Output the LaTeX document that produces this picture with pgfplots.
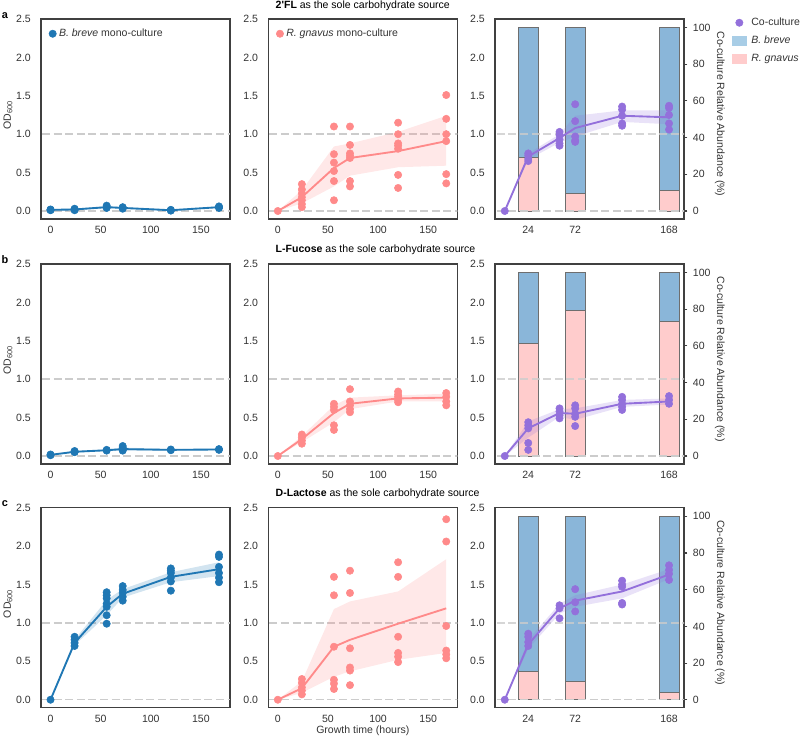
\documentclass[border=0pt]{standalone}
\usepackage{fontspec}
\setmainfont{Liberation Sans}
\usepackage{pgfplots}
\pgfplotsset{compat=1.18}
\definecolor{bblue}{RGB}{31,119,180}
\definecolor{rpink}{RGB}{255,138,138}
\definecolor{cpurple}{RGB}{147,112,219}
\definecolor{barblue}{RGB}{138,182,217}
\definecolor{barpink}{RGB}{255,204,204}
\definecolor{legblue}{RGB}{168,205,230}
\definecolor{axgray}{RGB}{64,64,64}
\definecolor{txtgray}{RGB}{51,51,51}
\definecolor{refgray}{RGB}{204,204,204}
\definecolor{edgegray}{RGB}{110,110,110}
\newcommand\tk{\fontsize{7.9}{9}\selectfont}
\pgfplotsset{
  base/.style={scale only axis, width=141.75pt, height=150pt,
    ymin=-0.104, ymax=2.5, ytick={0,0.5,1,1.5,2,2.5},
    axis line style={axgray, line width=0.9pt}, major tick length=0pt,
    tick label style={font=\tk, text=txtgray},
    /pgf/number format/assume math mode=true,
    yticklabel style={xshift=-4.1pt, /pgf/number format/.cd, fixed, fixed zerofill, precision=1},
    xticklabel style={yshift=-2.0pt},
    legend style={draw=none, fill=none, font=\tk, text=txtgray, inner sep=0pt, row sep=1.6pt},
    legend cell align=left},
  mono/.style={base, xmin=-9.5, xmax=179, xtick={0,50,100,150},
    legend style={at={(axis description cs:0.041,0.965)}, anchor=north west},
    legend image code/.code={\draw[mark repeat=2,mark phase=2,##1] plot coordinates {(0pt,0pt)(3pt,0pt)(7pt,0pt)};}},
  co/.style={base, xmin=-10, xmax=183.3, xtick={24,72,168}},
  pct/.style={scale only axis, width=141.75pt, height=150pt,
    xmin=-10, xmax=183.3, ymin=-4.36, ymax=104.7,
    axis y line*=right, axis x line=none, ytick={0,20,40,60,80,100},
    tick align=outside, major tick length=2.6pt, tick style={axgray, line width=0.8pt},
    axis line style={axgray, line width=0.9pt},
    tick label style={font=\tk, text=txtgray},
    yticklabel style={xshift=0.6pt},
    /pgf/number format/assume math mode=true,
    ybar stacked, bar width=20.5,
    ylabel={Co-culture Relative Abundance (\%)},
    ylabel style={at={(axis description cs:1.19,0.525)}, anchor=center, rotate=180, font=\tk, text=txtgray}},
  odlab/.style={ylabel={OD\textsubscript{600}}, ylabel style={at={(axis description cs:-0.175,0.52)}, anchor=center, font=\tk, text=txtgray}},
  refl/.style={refgray, line width=1.1pt, dash pattern=on 6pt off 2.7pt, forget plot},
  pts/.style={only marks, mark=*, mark size=2.75pt, #1},
  mline/.style={#1, line width=1.4pt, no marks, forget plot},
  band/.style={fill=#1, fill opacity=0.2, draw=none, forget plot},
  barp/.style={fill=barpink, draw=edgegray, line width=0.5pt},
  barb/.style={fill=barblue, draw=edgegray, line width=0.5pt},
}
\begin{document}
\begin{tikzpicture}
\path[use as bounding box] (0,0) rectangle (600pt,556.5pt);
% ================= ROW A =================
\begin{axis}[mono, odlab, at={(30.75pt,392.25pt)}, anchor=south west]
\addplot[refl] coordinates {(-20,0)(200,0)};
\addplot[refl] coordinates {(-20,1)(200,1)};
\addplot[band=bblue] coordinates {(0,0.025)(24,0.03)(56,0.065)(72,0.05)(120,0.02)(168,0.06)(168,0.04)(120,0.005)(72,0.03)(56,0.04)(24,0.01)(0,0.005)} -- cycle;
\addplot[mline=bblue] coordinates {(0,0.015)(24,0.02)(56,0.05)(72,0.04)(120,0.01)(168,0.05)};
\addplot[pts=bblue] coordinates {(0,0.01)(0,0.02)(0,0.015)(24,0.02)(24,0.03)(24,0.01)(56,0.07)(56,0.05)(56,0.04)(72,0.05)(72,0.04)(72,0.03)(120,0.015)(120,0.01)(120,0.005)(168,0.05)(168,0.06)(168,0.04)};
\addlegendentry{\textit{B. breve} mono-culture}
\end{axis}
\begin{axis}[mono, at={(201.2pt,392.25pt)}, anchor=south west]
\addplot[refl] coordinates {(-20,0)(200,0)};
\addplot[refl] coordinates {(-20,1)(200,1)};
\addplot[band=rpink] coordinates {(0,0)(24,0.27)(56,0.84)(72,0.88)(120,1.03)(168,1.24)(168,0.59)(120,0.57)(72,0.46)(56,0.32)(24,0.10)(0,0)} -- cycle;
\addplot[mline=rpink] coordinates {(0,0)(24,0.18)(56,0.56)(72,0.69)(120,0.78)(168,0.91)};
\addplot[pts=rpink] coordinates {(0,0)(24,0.35)(24,0.28)(24,0.23)(24,0.18)(24,0.14)(24,0.09)(24,0.05)(56,1.10)(56,0.74)(56,0.63)(56,0.52)(56,0.39)(56,0.14)(72,1.10)(72,0.86)(72,0.75)(72,0.72)(72,0.69)(72,0.39)(72,0.32)(120,1.15)(120,1.00)(120,0.88)(120,0.85)(120,0.81)(120,0.47)(120,0.30)(168,1.51)(168,1.20)(168,1.00)(168,0.91)(168,0.48)(168,0.36)};
\addlegendentry{\textit{R. gnavus} mono-culture}
\end{axis}
\begin{axis}[pct, at={(371.25pt,392.25pt)}, anchor=south west]
\addplot[barp] coordinates {(24,29.1)(72,9.7)(168,11.3)};
\addplot[barb] coordinates {(24,70.9)(72,90.3)(168,88.7)};
\end{axis}
\begin{axis}[co, at={(371.25pt,392.25pt)}, anchor=south west,
  legend style={at={(axis description cs:1.253,1.02)}, anchor=north west, row sep=2.4pt},
  legend image code/.code={\draw[mark repeat=2,mark phase=2,#1] plot coordinates {(0pt,0pt)(5.25pt,0pt)(12pt,0pt)};}]
\addplot[refl] coordinates {(-20,0)(200,0)};
\addplot[refl, opacity=0.8] coordinates {(-20,1)(200,1)};
\addplot[band=cpurple] coordinates {(0,0)(24,0.75)(56,1.00)(72,1.24)(120,1.31)(168,1.31)(168,1.13)(120,1.16)(72,0.97)(56,0.89)(24,0.67)(0,0)} -- cycle;
\addplot[mline=cpurple] coordinates {(0,0)(24,0.71)(56,0.95)(72,1.08)(120,1.24)(168,1.22)};
\addplot[pts=cpurple] coordinates {(0,0)(24,0.75)(24,0.72)(24,0.68)(24,0.65)(56,1.03)(56,0.99)(56,0.93)(56,0.88)(56,0.85)(72,1.39)(72,1.17)(72,0.97)(72,0.92)(72,0.90)(120,1.36)(120,1.32)(120,1.24)(120,1.14)(120,1.11)(168,1.37)(168,1.34)(168,1.25)(168,1.14)(168,1.06)};
\addlegendentry{Co-culture}
\addlegendimage{legend image code/.code={\fill[legblue] (0pt,-3.2pt) rectangle (10.5pt,3.6pt); \path (12pt,0pt);}}
\addlegendentry{\textit{B. breve}}
\addlegendimage{legend image code/.code={\fill[barpink] (0pt,-3.2pt) rectangle (10.5pt,3.6pt); \path (12pt,0pt);}}
\addlegendentry{\textit{R. gnavus}}
\end{axis}
% ================= ROW B =================
\begin{axis}[mono, odlab, at={(30.75pt,208.5pt)}, anchor=south west]
\addplot[refl] coordinates {(-20,0)(200,0)};
\addplot[refl] coordinates {(-20,1)(200,1)};
\addplot[band=bblue] coordinates {(0,0.02)(24,0.065)(56,0.085)(72,0.11)(120,0.09)(168,0.095)(168,0.075)(120,0.07)(72,0.07)(56,0.065)(24,0.045)(0,0.01)} -- cycle;
\addplot[mline=bblue] coordinates {(0,0.015)(24,0.055)(56,0.075)(72,0.09)(120,0.08)(168,0.085)};
\addplot[pts=bblue] coordinates {(0,0.01)(0,0.02)(24,0.065)(24,0.05)(24,0.055)(56,0.08)(56,0.07)(72,0.13)(72,0.11)(72,0.08)(72,0.07)(120,0.075)(120,0.085)(168,0.08)(168,0.09)};
\end{axis}
\begin{axis}[mono, at={(201.2pt,208.5pt)}, anchor=south west]
\addplot[refl] coordinates {(-20,0)(200,0)};
\addplot[refl] coordinates {(-20,1)(200,1)};
\addplot[band=rpink] coordinates {(0,0)(24,0.26)(56,0.66)(72,0.76)(120,0.79)(168,0.81)(168,0.71)(120,0.71)(72,0.61)(56,0.44)(24,0.18)(0,0)} -- cycle;
\addplot[mline=rpink] coordinates {(0,0)(24,0.22)(56,0.56)(72,0.68)(120,0.75)(168,0.76)};
\addplot[pts=rpink] coordinates {(0,0)(24,0.28)(24,0.24)(24,0.20)(24,0.16)(56,0.68)(56,0.64)(56,0.60)(56,0.40)(56,0.34)(72,0.87)(72,0.71)(72,0.66)(72,0.61)(72,0.57)(120,0.84)(120,0.80)(120,0.77)(120,0.73)(120,0.70)(168,0.82)(168,0.77)(168,0.71)(168,0.66)};
\end{axis}
\begin{axis}[pct, at={(371.25pt,208.5pt)}, anchor=south west]
\addplot[barp] coordinates {(24,61.3)(72,79.5)(168,73.6)};
\addplot[barb] coordinates {(24,38.7)(72,20.5)(168,26.4)};
\end{axis}
\begin{axis}[co, at={(371.25pt,208.5pt)}, anchor=south west]
\addplot[refl] coordinates {(-20,0)(200,0)};
\addplot[refl, opacity=0.8] coordinates {(-20,1)(200,1)};
\addplot[band=cpurple] coordinates {(0,0)(24,0.45)(56,0.61)(72,0.62)(120,0.73)(168,0.75)(168,0.67)(120,0.64)(72,0.47)(56,0.51)(24,0.24)(0,0)} -- cycle;
\addplot[mline=cpurple] coordinates {(0,0)(24,0.36)(56,0.56)(72,0.55)(120,0.68)(168,0.71)};
\addplot[pts=cpurple] coordinates {(0,0)(24,0.44)(24,0.40)(24,0.36)(24,0.17)(24,0.08)(56,0.62)(56,0.58)(56,0.53)(56,0.49)(72,0.66)(72,0.62)(72,0.55)(72,0.51)(72,0.39)(120,0.77)(120,0.73)(120,0.68)(120,0.64)(120,0.60)(168,0.78)(168,0.73)(168,0.68)};
\end{axis}
% ================= ROW C =================
\begin{axis}[mono, odlab, at={(30.75pt,25.7pt)}, anchor=south west]
\addplot[refl] coordinates {(-20,0)(200,0)};
\addplot[refl] coordinates {(-20,1)(200,1)};
\addplot[band=bblue] coordinates {(0,0)(24,0.78)(56,1.30)(72,1.44)(120,1.66)(168,1.79)(168,1.61)(120,1.53)(72,1.33)(56,1.10)(24,0.71)(0,0)} -- cycle;
\addplot[mline=bblue] coordinates {(0,0)(24,0.74)(56,1.21)(72,1.38)(120,1.60)(168,1.70)};
\addplot[pts=bblue] coordinates {(0,0)(24,0.82)(24,0.78)(24,0.74)(24,0.70)(56,1.40)(56,1.36)(56,1.32)(56,1.25)(56,1.21)(56,1.10)(56,0.99)(72,1.48)(72,1.43)(72,1.39)(72,1.34)(72,1.29)(120,1.71)(120,1.68)(120,1.65)(120,1.59)(120,1.54)(120,1.42)(168,1.89)(168,1.86)(168,1.73)(168,1.65)(168,1.59)(168,1.53)};
\end{axis}
\begin{axis}[mono, at={(201.2pt,25.7pt)}, anchor=south west]
\addplot[refl] coordinates {(-20,0)(200,0)};
\addplot[refl] coordinates {(-20,1)(200,1)};
\addplot[band=rpink] coordinates {(0,0)(24,0.24)(56,1.18)(72,1.28)(120,1.41)(168,1.83)(168,0.61)(120,0.52)(72,0.37)(56,0.30)(24,0.09)(0,0)} -- cycle;
\addplot[mline=rpink] coordinates {(0,0)(24,0.15)(56,0.69)(72,0.78)(120,0.99)(168,1.19)};
\addplot[pts=rpink] coordinates {(0,0)(24,0.27)(24,0.22)(24,0.16)(24,0.12)(24,0.07)(56,1.60)(56,1.36)(56,0.69)(56,0.26)(56,0.21)(56,0.14)(72,1.68)(72,1.39)(72,0.67)(72,0.42)(72,0.38)(72,0.19)(120,1.79)(120,1.60)(120,0.82)(120,0.61)(120,0.56)(120,0.49)(168,2.35)(168,2.06)(168,0.96)(168,0.64)(168,0.59)(168,0.54)};
\end{axis}
\begin{axis}[pct, at={(371.25pt,25.7pt)}, anchor=south west]
\addplot[barp] coordinates {(24,15.3)(72,10)(168,3.8)};
\addplot[barb] coordinates {(24,84.7)(72,90)(168,96.2)};
\end{axis}
\begin{axis}[co, at={(371.25pt,25.7pt)}, anchor=south west]
\addplot[refl] coordinates {(-20,0)(200,0)};
\addplot[refl, opacity=0.8] coordinates {(-20,1)(200,1)};
\addplot[band=cpurple] coordinates {(0,0)(24,0.78)(56,1.25)(72,1.36)(120,1.50)(168,1.70)(168,1.57)(120,1.32)(72,1.21)(56,1.12)(24,0.66)(0,0)} -- cycle;
\addplot[mline=cpurple] coordinates {(0,0)(24,0.72)(56,1.19)(72,1.29)(120,1.41)(168,1.63)};
\addplot[pts=cpurple] coordinates {(0,0)(24,0.86)(24,0.82)(24,0.75)(24,0.70)(56,1.23)(56,1.19)(56,1.06)(72,1.44)(72,1.27)(72,1.15)(120,1.55)(120,1.50)(120,1.47)(120,1.26)(120,1.24)(168,1.75)(168,1.69)(168,1.64)(168,1.56)};
\end{axis}
% ================= TEXT =================
\node[anchor=west, font=\tk] at (203.25pt,552pt) {\textbf{2\textquotesingle FL} as the sole carbohydrate source};
\node[anchor=west, font=\tk] at (203.25pt,369pt) {\textbf{L-Fucose} as the sole carbohydrate source};
\node[anchor=west, font=\tk] at (203.25pt,186pt) {\textbf{D-Lactose} as the sole carbohydrate source};
\node[font=\fontsize{8.2}{9}\selectfont\bfseries] at (3.75pt,544.7pt) {a};
\node[font=\fontsize{8.2}{9}\selectfont\bfseries] at (3.75pt,361.5pt) {b};
\node[font=\fontsize{8.2}{9}\selectfont\bfseries] at (3.75pt,179pt) {c};
\node[font=\tk, text=txtgray, inner sep=0pt] at (272.1pt,8.2pt) {Growth time (hours)};
\end{tikzpicture}
\end{document}
